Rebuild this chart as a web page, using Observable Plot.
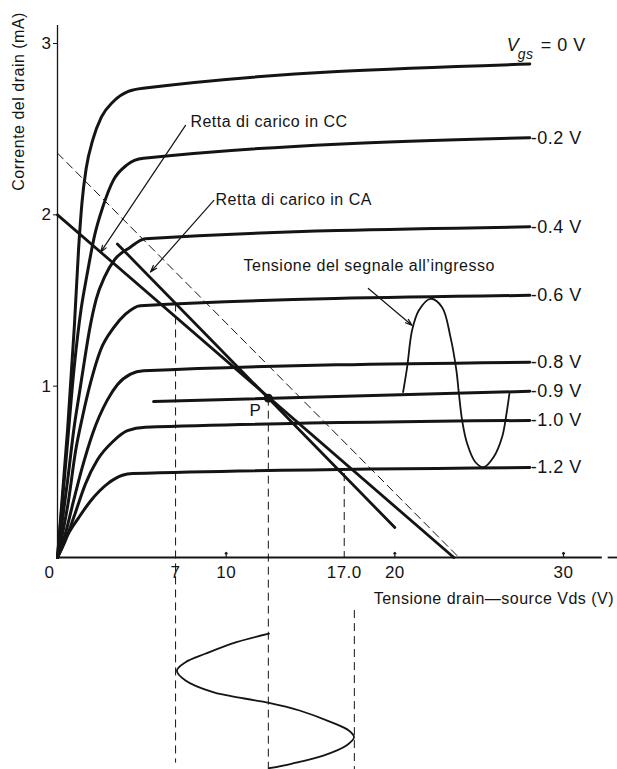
<!DOCTYPE html>
<html>
<head>
<meta charset="utf-8">
<script src="https://cdn.jsdelivr.net/npm/d3@7"></script>
<script src="https://cdn.jsdelivr.net/npm/@observablehq/plot@0.6"></script>
<style>
  html, body { margin: 0; padding: 0; background: #fff; }
  #chart { width: 617px; height: 769px; }
</style>
</head>
<body>
<div id="chart"></div>
<script>
// ---------- DATA ----------
// Drain characteristics: [Vds (V), Id (mA)]
const curve_0V   = [[0,0],[0.6,0.75],[1.0,1.35],[1.25,1.8],[1.45,2.07],[1.7,2.27],[2.1,2.44],[2.6,2.57],[3.3,2.66],[4.2,2.72],[5.2,2.74],[28,2.88]];
const curve_m02V = [[0,0],[0.55,0.62],[1.0,1.12],[1.4,1.45],[1.75,1.65],[2.2,1.88],[2.7,2.05],[3.3,2.2],[4.1,2.29],[5.1,2.33],[28,2.45]];
const curve_m04V = [[0,0],[0.6,0.45],[1.0,0.77],[1.3,0.96],[1.6,1.15],[1.9,1.33],[2.3,1.51],[2.8,1.64],[3.4,1.74],[4.3,1.81],[5.2,1.86],[28,1.93]];
const curve_m06V = [[0,0],[0.65,0.33],[1.07,0.62],[1.48,0.82],[1.96,1.02],[2.55,1.21],[3.32,1.34],[4.03,1.42],[4.9,1.47],[28,1.53]];
const curve_m08V = [[0,0],[0.47,0.14],[0.95,0.33],[1.48,0.53],[2.07,0.72],[2.96,0.92],[3.56,1.01],[4.33,1.07],[5.1,1.09],[28,1.14]];
const curve_m09V = [[5.7,0.91],[28,0.97]];
const curve_m10V = [[0,0],[0.47,0.10],[0.95,0.23],[1.66,0.43],[2.37,0.57],[3.32,0.68],[4.15,0.74],[5.2,0.76],[28,0.80]];
const curve_m12V = [[0,0],[0.65,0.14],[1.24,0.23],[1.96,0.33],[2.96,0.43],[3.85,0.48],[4.45,0.49],[28,0.525]];
const vgsLabels  = ["0 V", "-0.2 V", "-0.4 V", "-0.6 V", "-0.8 V", "-0.9 V", "-1.0 V", "-1.2 V"];

// Load lines: [Vds, Id]
const dcLoadLine   = [[0,2.0],[23.5,0]];        // Retta di carico in CC
const acLoadLine   = [[3.55,1.83],[20.0,0.175]]; // Retta di carico in CA
const acDashedLine = [[0,2.36],[23.8,0]];
const qPoint       = [12.5, 0.93];               // P

// Input signal (drawn over the characteristics) [Vds, Id]
const inputSine = [[20.49,0.965],[20.73,1.111],[21.02,1.325],[21.42,1.442],[22.11,1.51],[22.8,1.461],[23.3,1.286],[23.65,1.092],[23.79,0.965],[23.99,0.80],[24.29,0.664],[24.78,0.556],[25.27,0.527],[25.86,0.586],[26.36,0.703],[26.62,0.839],[26.79,0.955]];
// Output signal drawn below the Vds axis [Vds, time in axis units below 0]
const outputSine = [[12.54,-0.445],[10.61,-0.494],[8.76,-0.562],[7.59,-0.611],[7.08,-0.66],[7.59,-0.718],[9.22,-0.786],[11.08,-0.823],[12.54,-0.848],[14.35,-0.893],[16.22,-0.961],[17.27,-1.01],[17.58,-1.049],[17.13,-1.097],[15.76,-1.156],[13.87,-1.204],[12.54,-1.23]];

// Projection (dashed) lines: x, from, to
const projX    = [7, 12.5, 17, 17.6];
const projTop  = [1.48, 0.93, 0.49, -0.31];
const projBot  = [-1.2, -1.2374, 0, -1.2374];

// Axis ticks
const xTickValues = [7, 10, 17, 20, 30];
const xTickLabels = ["7", "10", "17.0", "20", "30"];
const xTickMarks  = [10, 20, 30];
const yTickValues = [1, 2, 3];

// Texts
const yTitle = "Corrente del drain (mA)";
const xTitle = "Tensione drain\u2014source Vds (V)";
const ccText = "Retta di carico in CC";
const caText = "Retta di carico in CA";
const sigText = "Tensione del segnale all\u2019ingresso";

// ---------- BUILD ----------
const curves = [curve_0V, curve_m02V, curve_m04V, curve_m06V, curve_m08V, curve_m09V, curve_m10V, curve_m12V];
const curveRows = curves.flatMap((c, i) => c.map(([vds, id]) => ({vgs: vgsLabels[i], vds, id})));
const endRows = curves.map((c, i) => ({vgs: vgsLabels[i], vds: c[c.length-1][0], id: c[c.length-1][1]}));
const loadRows = [dcLoadLine, acLoadLine].flatMap((l, i) => l.map(([vds, id]) => ({k: i, vds, id})));
const projRows = projX.map((x, i) => ({x, top: projTop[i], bot: projBot[i]}));
const ink = "#141414";
const xTop = 3.105, yBottom = -1.2374, yTopDomain = 3.251;

const arrows = [
  {x1: 7.59, y1: 2.522, x2: 2.55, y2: 1.781},
  {x1: 9.27, y1: 2.084, x2: 5.51, y2: 1.666},
  {x1: 18.43, y1: 1.57, x2: 21.03, y2: 1.354}
];

const chart = Plot.plot({
  width: 617,
  height: 769,
  marginLeft: 57,
  marginRight: 54,
  marginTop: 0,
  marginBottom: 0,
  x: {domain: [0, 30], axis: null},
  y: {domain: [yBottom, yTopDomain]},
  style: {fontFamily: "'Liberation Sans', Arial, Helvetica, sans-serif", color: ink, background: "#fff", letterSpacing: "0.5px"},
  marks: [
    // axes lines
    Plot.ruleX([0], {y1: 0, y2: xTop, stroke: ink, strokeWidth: 1.3}),
    Plot.ruleY([0], {x1: 0, x2: 32.3, stroke: ink, strokeWidth: 1.8}),
    Plot.ruleY([0], {x1: 32.65, x2: 33.3, stroke: ink, strokeWidth: 1.8}),
    Plot.axisY(yTickValues, {anchor: "left", tickSize: 4, tickPadding: 2, fontSize: 17, label: null, stroke: ink, tickFormat: d => String(d)}),
    Plot.vector(xTickMarks, {x: d => d, y: 0, length: 5, rotate: 0, anchor: "start", stroke: ink, strokeWidth: 1.2}),
    Plot.text(xTickValues, {x: d => d, y: 0, text: (d, i) => xTickLabels[i], dy: 15, fontSize: 17, fill: ink}),
    Plot.text([0], {x: d => d, y: 0, text: ["0"], dx: -8, dy: 15, fontSize: 17, fill: ink}),
    // dashed lines
    Plot.ruleX(projRows, {x: "x", y1: "top", y2: "bot", stroke: ink, strokeWidth: 1, strokeDasharray: "8,5"}),
    Plot.line(acDashedLine, {x: d => d[0], y: d => d[1], stroke: ink, strokeWidth: 1, strokeDasharray: "8,5"}),
    // characteristic curves
    Plot.line(curveRows, {x: "vds", y: "id", z: "vgs", curve: "monotone-x", stroke: ink, strokeWidth: 3}),
    // load lines
    Plot.line(loadRows, {x: "vds", y: "id", z: "k", stroke: ink, strokeWidth: 2.8}),
    Plot.dot([qPoint], {x: d => d[0], y: d => d[1], r: 4.5, fill: ink}),
    Plot.text([qPoint], {x: d => d[0], y: d => d[1], text: ["P"], dx: -13, dy: 12, fontSize: 17, fill: ink}),
    // signals
    Plot.line(inputSine, {x: d => d[0], y: d => d[1], curve: "catmull-rom", stroke: ink, strokeWidth: 1.8}),
    Plot.line(outputSine, {x: d => d[0], y: d => d[1], curve: "catmull-rom", stroke: ink, strokeWidth: 1.8}),
    // arrows
    Plot.arrow(arrows, {x1: "x1", y1: "y1", x2: "x2", y2: "y2", stroke: ink, strokeWidth: 1.2, headLength: 9, headAngle: 35}),
    // curve labels
    Plot.text(endRows.slice(1), {x: "vds", y: "id", text: "vgs", textAnchor: "start", dx: 1, fontSize: 18, fill: ink}),
    Plot.text([endRows[0]], {x: "vds", y: "id", text: ["V"], textAnchor: "start", dx: -23, dy: -19, fontSize: 18, fontStyle: "italic", fill: ink}),
    Plot.text([endRows[0]], {x: "vds", y: "id", text: ["gs"], textAnchor: "start", dx: -12, dy: -10, fontSize: 14, fontStyle: "italic", fill: ink}),
    Plot.text([endRows[0]], {x: "vds", y: "id", text: ["= 0 V"], textAnchor: "start", dx: 11, dy: -19, fontSize: 18, fill: ink}),
    // annotation texts
    Plot.text([ccText], {x: 7.88, y: 2.545, text: d => d, textAnchor: "start", fontSize: 16, fill: ink}),
    Plot.text([caText], {x: 9.37, y: 2.09, text: d => d, textAnchor: "start", fontSize: 16, fill: ink}),
    Plot.text([sigText], {x: 11.03, y: 1.70, text: d => d, textAnchor: "start", fontSize: 16, fill: ink}),
    Plot.text([yTitle], {x: -2.31, y: 2.662, text: d => d, rotate: -90, fontSize: 16, fill: ink}),
    Plot.text([xTitle], {x: 33.0, y: -0.239, text: d => d, textAnchor: "end", fontSize: 16, fill: ink})
  ]
});
document.getElementById("chart").appendChild(chart);
</script>
</body>
</html>
